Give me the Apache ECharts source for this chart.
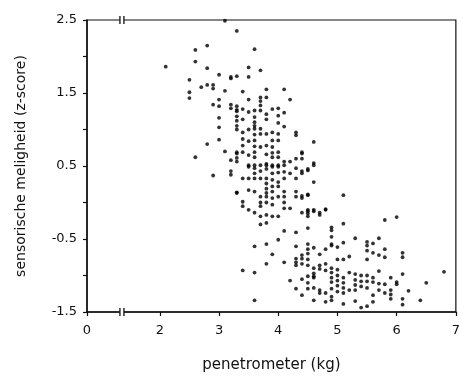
<!DOCTYPE html>
<html><head><meta charset="utf-8">
<script src="https://cdn.jsdelivr.net/npm/echarts@6/dist/echarts.min.js"></script>
<style>html,body{margin:0;padding:0;background:#fff}#c{width:463px;height:378px}</style>
</head><body><div id="c"></div>
<script>
// Tick labels
const xTickValues = [2, 3, 4, 5, 6, 7];
const xAxisStart = 0.77;          // broken axis: its start is labelled "0"
const xStartLabel = '0';
const yLabelValues = [2.5, 1.5, 0.5, -0.5, -1.5];
const xTitle = 'penetrometer (kg)';
const yTitle = 'sensorische meligheid (z-score)';

// penetrometer columns (kg) and the z-scores read at each column
const penetrometer = [2.1, 2.5, 2.6, 2.7, 2.8, 2.9, 3.0, 3.1, 3.2, 3.3, 3.4, 3.5, 3.6, 3.7, 3.8, 3.9, 4.0, 4.1, 4.2, 4.3, 4.4, 4.5, 4.6, 4.7, 4.8, 4.9, 5.0, 5.1, 5.2, 5.3, 5.4, 5.5, 5.6, 5.7, 5.8, 5.9, 6.0, 6.1, 6.2, 6.4, 6.5, 6.8];
const meligheid = [
  [1.86],
  [1.68, 1.51, 1.43],
  [2.09, 1.93, 0.62],
  [1.58],
  [2.15, 1.84, 1.61, 0.80],
  [1.61, 1.56, 1.34, 0.37],
  [1.75, 1.41, 1.32, 1.16, 1.03, 0.86],
  [2.49, 1.53, 0.70],
  [1.72, 1.70, 1.34, 1.29, 0.58, 0.43, 0.38],
  [2.35, 1.73, 1.32, 1.27, 1.25, 1.18, 1.12, 1.05, 1.00, 0.69, 0.67, 0.61, 0.56, 0.14, 0.13],
  [1.52, 1.28, 1.14, 0.96, 0.87, 0.78, 0.69, 0.33, 0.01, -0.05, -0.93],
  [1.85, 1.72, 1.41, 1.24, 1.00, 0.84, 0.65, 0.51, 0.49, 0.33, 0.17, -0.10],
  [2.10, 1.26, 1.17, 1.10, 1.05, 1.01, 0.93, 0.85, 0.77, 0.69, 0.62, 0.51, 0.47, 0.40, 0.33, 0.15, -0.14, -0.60, -0.96, -1.34],
  [1.81, 1.44, 1.39, 1.33, 1.26, 1.01, 0.94, 0.76, 0.51, 0.43, 0.33, 0.08, 0.00, -0.05, -0.19, -0.30],
  [1.55, 1.44, 1.21, 1.14, 0.94, 0.78, 0.66, 0.53, 0.51, 0.46, 0.33, 0.26, 0.19, 0.13, 0.08, 0.00, -0.17, -0.28, -0.57, -0.84],
  [1.28, 0.96, 0.85, 0.76, 0.68, 0.62, 0.51, 0.49, 0.40, 0.31, 0.22, 0.15, 0.06, -0.03, -0.19, -0.71],
  [1.29, 1.19, 1.09, 0.94, 0.85, 0.69, 0.62, 0.51, 0.49, 0.41, 0.28, 0.22, 0.08, -0.19, -0.51],
  [1.55, 1.23, 1.04, 0.56, 0.51, 0.42, 0.33, 0.15, 0.08, 0.00, -0.08, -0.39, -0.82],
  [1.41, 0.56, 0.40, -0.08, -1.07],
  [0.96, 0.92, 0.60, 0.47, 0.33, 0.15, 0.08, -0.41, -0.60, -0.77, -0.82, -0.86, -1.18],
  [0.69, 0.67, 0.60, 0.43, 0.40, 0.09, 0.06, -0.14, -0.72, -0.77, -0.84, -1.05, -1.27],
  [0.46, 0.44, 0.11, 0.10, -0.10, -0.12, -0.15, -0.19, -0.35, -0.57, -0.64, -0.70, -0.78, -0.86, -1.01, -1.10, -1.18],
  [0.83, 0.54, 0.51, 0.28, -0.10, -0.12, -0.62, -0.90, -0.97, -1.01, -1.03, -1.17, -1.34],
  [-0.14, -0.17, -0.71, -0.86, -0.91, -1.20, -1.24],
  [-0.09, -0.10, -0.64, -0.84, -0.93, -1.24, -1.36],
  [-0.34, -0.38, -0.47, -0.57, -0.59, -0.90, -0.96, -1.03, -1.09, -1.18, -1.29, -1.34],
  [-0.61, -0.78, -0.92, -1.00, -1.07, -1.14, -1.22],
  [0.10, -0.29, -0.55, -0.78, -1.03, -1.10, -1.17, -1.24, -1.39],
  [-0.74, -0.96, -1.20],
  [-0.49, -0.98, -1.06, -1.13, -1.20, -1.35],
  [-1.00, -1.08, -1.15, -1.44],
  [-0.54, -0.59, -0.66, -0.78, -1.00, -1.08, -1.17, -1.42],
  [-0.56, -0.69, -1.03, -1.09, -1.27, -1.36],
  [-0.49, -0.72, -0.94, -1.11, -1.20],
  [-0.24, -0.64, -0.75, -1.12, -1.24],
  [-1.03, -1.20, -1.26, -1.32],
  [-0.20, -1.09, -1.12],
  [-0.69, -0.75, -0.98, -1.32, -1.40],
  [-1.21],
  [-1.34],
  [-1.10],
  [-0.95]
];

const points = [];
penetrometer.forEach((x, i) => meligheid[i].forEach(y => points.push([x, y])));

const FONT = 'DejaVu Sans';
const chart = echarts.init(document.getElementById('c'));
chart.setOption({
  animation: false,
  backgroundColor: '#fff',
  grid: { left: 87, right: 6, top: 20, bottom: 63, show: true, borderColor: '#111', borderWidth: 1.2 },
  xAxis: {
    type: 'value', min: xAxisStart, max: 7,
    name: xTitle, nameLocation: 'middle', nameGap: 46,
    nameTextStyle: { fontFamily: FONT, fontSize: 15, color: '#111' },
    axisLine: { show: true, onZero: false, lineStyle: { color: '#111', width: 1.5 } },
    axisTick: { show: true, length: 4, customValues: [xAxisStart].concat(xTickValues), lineStyle: { color: '#111', width: 1.2 } },
    axisLabel: {
      customValues: [xAxisStart].concat(xTickValues), margin: 12,
      fontFamily: FONT, fontSize: 13, color: '#111',
      formatter: v => (v < 1 ? xStartLabel : String(v))
    },
    splitLine: { show: false }
  },
  yAxis: {
    type: 'value', min: -1.5, max: 2.5, interval: 0.5,
    name: yTitle, nameLocation: 'middle', nameGap: 59, nameRotate: 90,
    nameTextStyle: { fontFamily: FONT, fontSize: 14, color: '#111' },
    axisLine: { show: true, onZero: false, lineStyle: { color: '#111', width: 1.5 } },
    axisTick: { show: true, length: 4, lineStyle: { color: '#111', width: 1.2 } },
    axisLabel: {
      margin: 10, fontFamily: FONT, fontSize: 13, color: '#111',
      formatter: v => (yLabelValues.some(t => Math.abs(t - v) < 1e-6) ? String(v) : '')
    },
    splitLine: { show: false }
  },
  series: [{
    type: 'scatter', data: points, symbol: 'circle', symbolSize: 3.8,
    itemStyle: { color: '#000' }
  }]
});

// axis-break marks on top and bottom frame lines
const bx = chart.convertToPixel({ xAxisIndex: 0 }, 1.36);
const yTop = chart.convertToPixel({ yAxisIndex: 0 }, 2.5);
const yBot = chart.convertToPixel({ yAxisIndex: 0 }, -1.5);
const brk = y => ([
  { type: 'rect', shape: { x: bx - 2, y: y - 3, width: 4, height: 6 }, style: { fill: '#fff' }, z: 100 },
  { type: 'line', shape: { x1: bx - 2, y1: y - 4, x2: bx - 2, y2: y + 4 }, style: { stroke: '#111', lineWidth: 1.3 }, z: 101 },
  { type: 'line', shape: { x1: bx + 2, y1: y - 4, x2: bx + 2, y2: y + 4 }, style: { stroke: '#111', lineWidth: 1.3 }, z: 101 }
]);
chart.setOption({ graphic: brk(yTop).concat(brk(yBot)) });
</script>
</body></html>
